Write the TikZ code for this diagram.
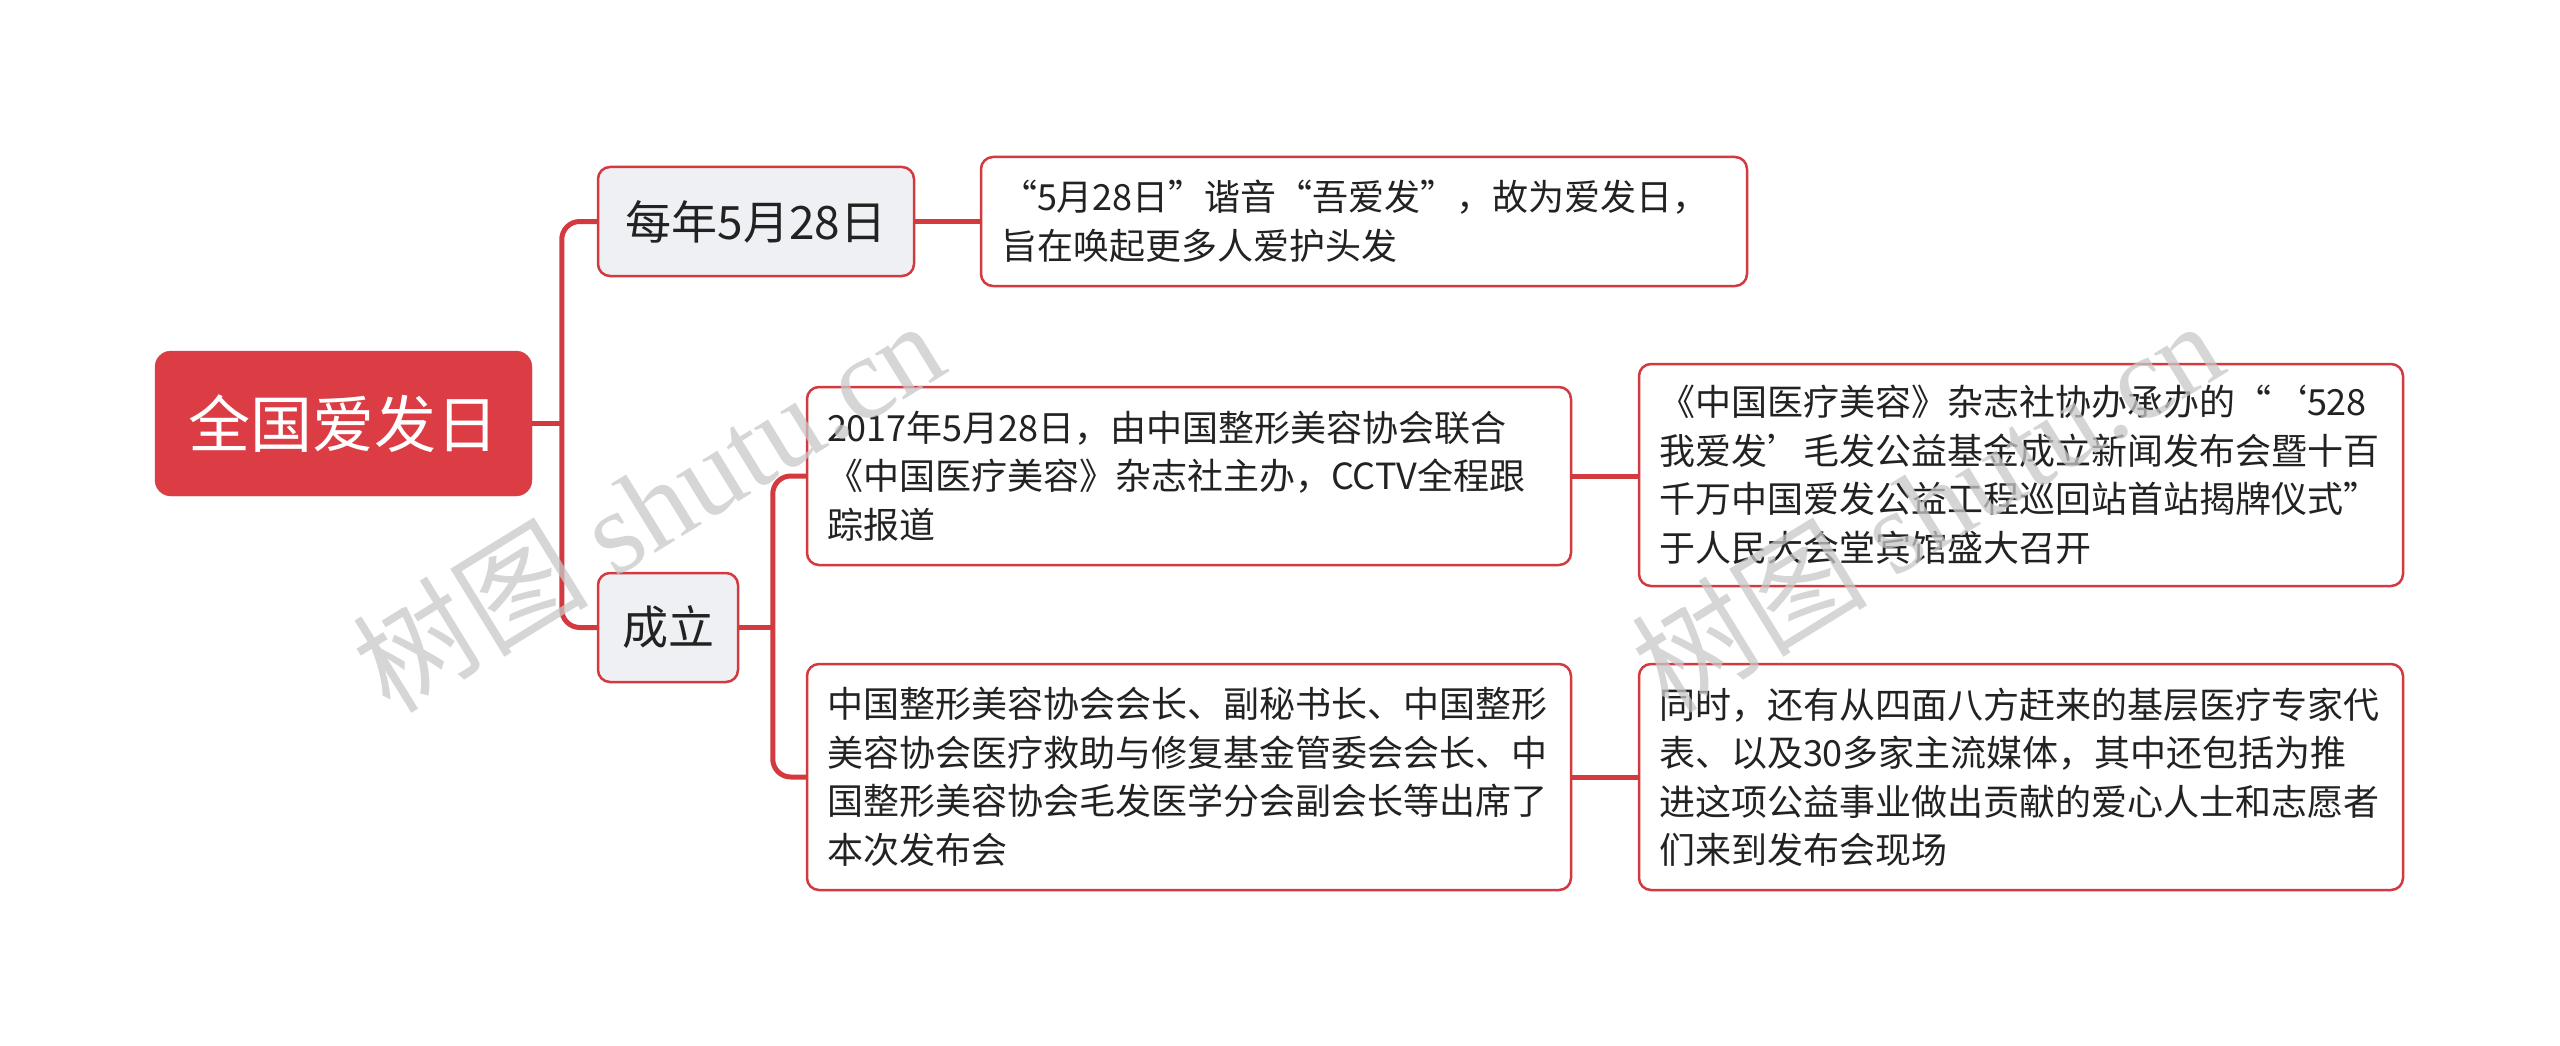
\documentclass[tikz,border=0pt]{standalone}
\usepackage{fontspec}
\setmainfont{Noto Sans CJK SC}
\newfontfamily\wmserif{Liberation Serif}
\definecolor{mred}{HTML}{D23A40}
\definecolor{rootred}{HTML}{DC3D45}
\definecolor{lgray}{HTML}{EEF0F4}
\definecolor{txt}{HTML}{222222}
\definecolor{wm}{HTML}{C8C8C8}
\begin{document}
\begin{tikzpicture}[x=1pt,y=-1pt,
  box/.style={draw=mred, line width=2.5pt, rounded corners=12pt, fill=white, text=txt, inner sep=0pt},
  rootbox/.style={fill=rootred, draw=rootred, rounded corners=16pt, text=white, inner sep=0pt,
     font=\fontsize{62}{70}\selectfont, minimum width=377pt, minimum height=145pt},
  subbox/.style={box, fill=lgray, font=\fontsize{46}{54}\selectfont, minimum height=109pt},
  leaf/.style={box, font=\fontsize{36}{48.5}\selectfont, align=left, text width=724pt, minimum width=764pt},
  conn/.style={draw=mred, line width=5pt, rounded corners=18pt},
  wmark/.style={text=wm, text opacity=0.75, rotate=31.6, inner sep=0pt, font=\fontsize{118}{124}\selectfont}
]
\useasboundingbox (0,0) rectangle (2560,1046);

\node[rootbox] (root) at (343.5,423.5) {全国爱发日};
\node[subbox, minimum width=316pt] (n1) at (756,221.5) {每年5月28日};
\node[subbox, minimum width=140pt] (n2) at (668,627.5) {成立};

\node[leaf, text width=726pt, minimum width=766pt, minimum height=129pt] (l1) at (1364,221.5)
  {“5月28日”谐音“吾爱发”，故为爱发日，\\旨在唤起更多人爱护头发};
\node[leaf, minimum height=178pt] (a) at (1189,476)
  {2017年5月28日，由中国整形美容协会联合\\《中国医疗美容》杂志社主办，CCTV全程跟\\踪报道};
\node[leaf, minimum height=222pt] (b) at (2021,475)
  {《中国医疗美容》杂志社协办承办的“‘528\\我爱发’毛发公益基金成立新闻发布会暨十百\\千万中国爱发公益工程巡回站首站揭牌仪式”\\于人民大会堂宾馆盛大召开};
\node[leaf, minimum height=226pt] (c) at (1189,777)
  {中国整形美容协会会长、副秘书长、中国整形\\美容协会医疗救助与修复基金管委会会长、中\\国整形美容协会毛发医学分会副会长等出席了\\本次发布会};
\node[leaf, minimum height=226pt] (d) at (2021,777)
  {同时，还有从四面八方赶来的基层医疗专家代\\表、以及30多家主流媒体，其中还包括为推\\进这项公益事业做出贡献的爱心人士和志愿者\\们来到发布会现场};

\coordinate (t1) at (563,423.5);
\coordinate (t2) at (774,627.5);

\draw[conn] (root.east) -- (t1);
\draw[conn] (n1.west) -- ++(-35,0) |- (n2.west);
\draw[conn] (n1.east) -- (l1.west);
\draw[conn] (n2.east) -- (t2);
\draw[conn] (a.west) -- ++(-33,0) |- (c.west);
\draw[conn] (a.east) -- (a.east -| b.west);
\draw[conn] (c.east) -- (d.west);

\node[wmark] (wm1) at (648,505) {树图 {\wmserif shutu.cn}};
\node[wmark] (wm2) at (1927,505) {树图 {\wmserif shutu.cn}};
\end{tikzpicture}
\end{document}
